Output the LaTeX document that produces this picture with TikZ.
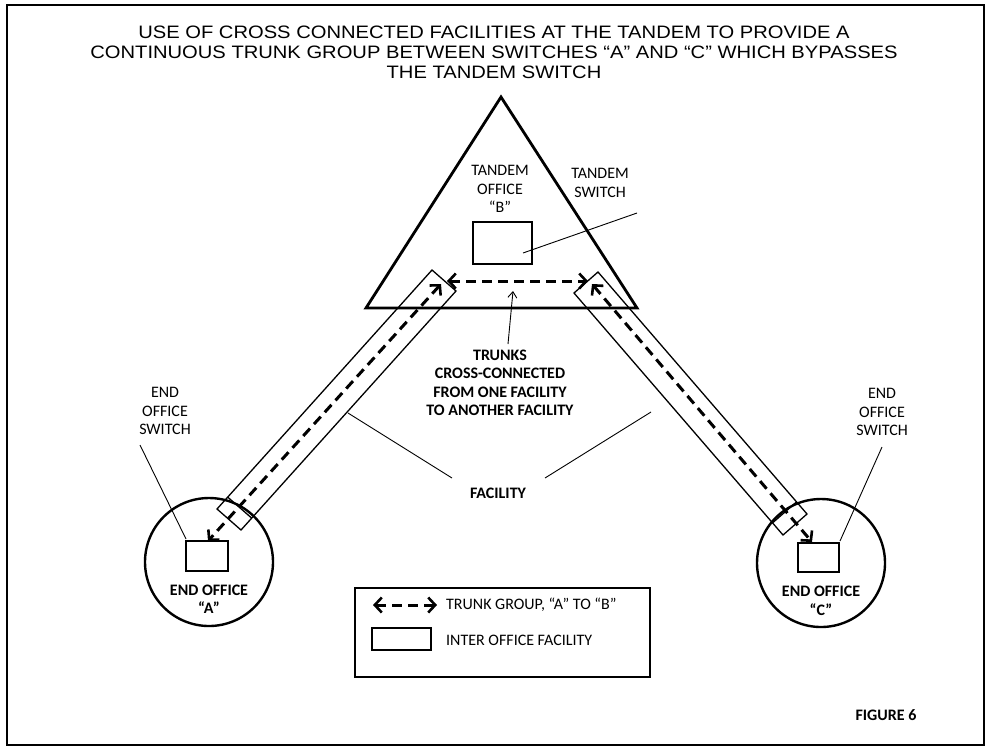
\documentclass[tikz,border=0pt]{standalone}
\usepackage{fontspec}
\setmainfont{Carlito}
\newfontfamily\titlefont{Liberation Sans}
\usetikzlibrary{arrows.meta}
\begin{document}
\begin{tikzpicture}[x=1pt,y=-1pt,
  lbl/.style={font=\fontsize{16}{18.5}\selectfont, align=center, inner sep=0pt},
  blbl/.style={font=\fontsize{16}{18.5}\selectfont\bfseries, align=center, inner sep=0pt},
  boxnode/.style={draw, line width=2pt, inner sep=0pt},
  fac/.style={line width=1.3pt, line join=miter},
  leader/.style={line width=0.9pt},
  trunk/.style={line width=3pt, dash pattern=on 10pt off 6pt,
    {Straight Barb[length=7pt,width=15pt,line width=2.6pt]}-{Straight Barb[length=7pt,width=15pt,line width=2.6pt]}},
  office/.style={draw, circle, line width=2.4pt, minimum size=128pt, inner sep=0pt}
]
\useasboundingbox (0,0) rectangle (987,748);
\draw[line width=2pt] (7,5) rectangle (984,745);

% title
\node[font=\titlefont\fontsize{18}{20}\selectfont, align=center, inner sep=0pt] (title) at (494,52)
  {\scalebox{1.12}[1]{USE OF CROSS CONNECTED FACILITIES AT THE TANDEM TO PROVIDE A}\\
   \scalebox{1.12}[1]{CONTINUOUS TRUNK GROUP BETWEEN SWITCHES “A” AND “C” WHICH BYPASSES}\\
   \scalebox{1.12}[1]{THE TANDEM SWITCH}};

% tandem office triangle
\coordinate (apex) at (501,97);
\coordinate (bR) at (637,308);
\coordinate (bL) at (366,308);
\draw[line width=2.8pt, line join=miter] (apex) -- (bR) -- (bL) -- cycle;
\node[lbl] (tolbl) at (500,189) {TANDEM\\OFFICE\\“B”};
\node[boxnode, minimum width=59pt, minimum height=42pt] (ts) at (502.5,243) {};
\node[lbl] (tslbl) at (600,183) {TANDEM\\SWITCH};
\coordinate (tsl) at (637,213);
\coordinate (tsin) at (523,253);
\draw[leader] (tsl) -- (tsin);

% end offices
\node[office] (eoA) at (209,562) {};
\node[office] (eoC) at (821,563) {};
\node[boxnode, minimum width=42pt, minimum height=30pt] (swA) at (207,556) {};
\node[boxnode, minimum width=41pt, minimum height=29pt] (swC) at (818.5,557.5) {};
\node[blbl] (eoAlbl) at (209,599) {END OFFICE\\“A”};
\node[blbl] (eoClbl) at (821,601) {END OFFICE\\“C”};
\node[lbl] (swAlbl) at (165,411) {END\\OFFICE\\SWITCH};
\node[lbl] (swClbl) at (882,412) {END\\OFFICE\\SWITCH};
\coordinate (swAl) at (140,445);
\coordinate (swAt) at (186,539);
\coordinate (swCl) at (882,447);
\coordinate (swCt) at (840,541);
\draw[leader] (swAl) -- (swAt);
\draw[leader] (swCl) -- (swCt);

% left facility
\coordinate (LA1) at (432,270);
\coordinate (LA2) at (456,291);
\coordinate (LB1) at (217,509);
\coordinate (LB2) at (241,530);
\coordinate (LC1) at (227.7,497.1);
\coordinate (LC2) at (251.7,518.1);
\draw[fac] (LA1) -- (LA2) -- (LB2) -- (LB1) -- cycle;
\draw[fac] (LC1) -- (LC2);

% right facility
\coordinate (RA1) at (598,272);
\coordinate (RA2) at (574,293);
\coordinate (RB1) at (807,514);
\coordinate (RB2) at (783,535);
\coordinate (RC1) at (796.5,501.9);
\coordinate (RC2) at (772.5,522.9);
\draw[fac] (RA1) -- (RA2) -- (RB2) -- (RB1) -- cycle;
\draw[fac] (RC1) -- (RC2);

% trunk groups
\coordinate (LT) at (441,284);
\coordinate (LE) at (208,541);
\coordinate (RT) at (592,284);
\coordinate (RE) at (812,542);
\coordinate (HL) at (447,281);
\coordinate (HR) at (588,281);
\draw[trunk] (LT) -- (LE);
\draw[trunk] (RT) -- (RE);
\draw[trunk] (HL) -- (HR);

% trunks label
\node[blbl] (trlbl) at (500,383) {TRUNKS\\CROSS-CONNECTED\\FROM ONE FACILITY\\TO ANOTHER FACILITY};
\coordinate (trA) at (508,344);
\coordinate (trB) at (513,291);
\draw[leader, -{Straight Barb[length=6pt,width=9pt,line width=0.9pt]}] (trA) -- (trB);

% facility label
\node[blbl] (faclbl) at (498,493) {FACILITY};
\coordinate (fL1) at (452,478);
\coordinate (fL2) at (348,413);
\coordinate (fR1) at (545,478);
\coordinate (fR2) at (651,412);
\draw[leader] (fL1) -- (fL2);
\draw[leader] (fR1) -- (fR2);

% legend
\node[draw, line width=1.3pt, minimum width=295pt, minimum height=89pt, inner sep=0pt] (legend) at (502.5,632.5) {};
\coordinate (lgA) at (373,605);
\coordinate (lgB) at (437,605);
\draw[trunk] (lgA) -- (lgB);
\node[lbl, anchor=west] (lgT1) at (446,605) {TRUNK GROUP, “A” TO “B”};
\node[draw, line width=1.3pt, minimum width=59pt, minimum height=22pt, inner sep=0pt] (lgbox) at (401.5,639) {};
\node[lbl, anchor=west] (lgT2) at (446,640) {INTER OFFICE FACILITY};

% figure number
\node[blbl] (fig) at (886,715) {FIGURE 6};
\end{tikzpicture}
\end{document}
